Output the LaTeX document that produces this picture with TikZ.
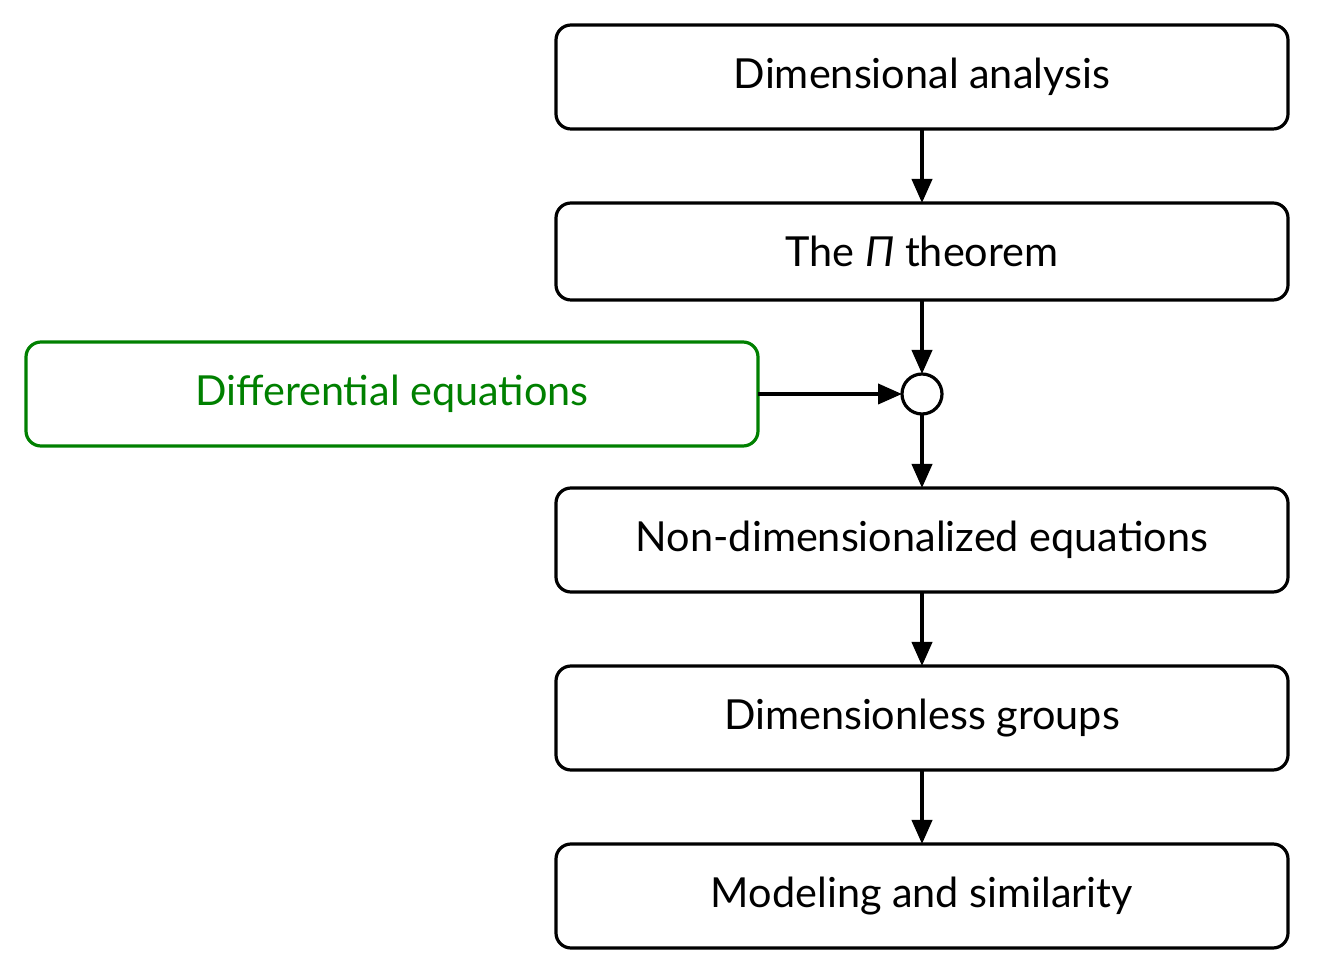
\documentclass[tikz,border=0pt]{standalone}
\usepackage{fontspec}
\setmainfont{Lato}
\usepackage{xcolor}
\usepackage{tikz}
\usetikzlibrary{positioning}
\usetikzlibrary{arrows.meta}

\definecolor{diffgreen}{RGB}{0,128,0}

\tikzset{
	stagebox/.style={draw, line width=1.6pt, rounded corners=7.5pt,
		minimum width=366pt, minimum height=52pt, inner sep=0pt, outer sep=0pt,
		font=\fontsize{20.7}{25}\selectfont},
	flowarrow/.style={line width=2pt, -{Triangle[length=12pt, width=10pt]}},
}

\begin{document}
\begin{tikzpicture}
		
		% ---------------------
		% Proper size --- Bounding box
		\useasboundingbox (0pt, 0pt) rectangle (662pt, 487.5pt);
		
		% ---------------------
		% Main column
		
		\node[stagebox] (Analysis) at (461pt, 449pt) {Dimensional analysis};
		\node[stagebox, minimum height=48.5pt, below=37pt of Analysis] (PiTheorem) {The \textit{Π} theorem};
		\node[circle, draw, line width=1.6pt, minimum size=20pt, inner sep=0pt, outer sep=0pt,
			below=37pt of PiTheorem] (Merge) {};
		\node[stagebox, below=37pt of Merge] (NonDim) {Non-dimensionalized equations};
		\node[stagebox, below=37pt of NonDim] (Groups) {Dimensionless groups};
		\node[stagebox, below=37pt of Groups] (Modeling) {Modeling and similarity};
		
		% ---------------------
		% Side input
		\node[stagebox, draw=diffgreen, text=diffgreen, left=72pt of Merge] (DiffEq) {Differential equations};
		
		% ---------------------
		\draw[flowarrow] (Analysis) -- (PiTheorem);
		\draw[flowarrow] (PiTheorem) -- (Merge);
		\draw[flowarrow] (DiffEq) -- (Merge);
		\draw[flowarrow] (Merge) -- (NonDim);
		\draw[flowarrow] (NonDim) -- (Groups);
		\draw[flowarrow] (Groups) -- (Modeling);
		
\end{tikzpicture}
\end{document}
